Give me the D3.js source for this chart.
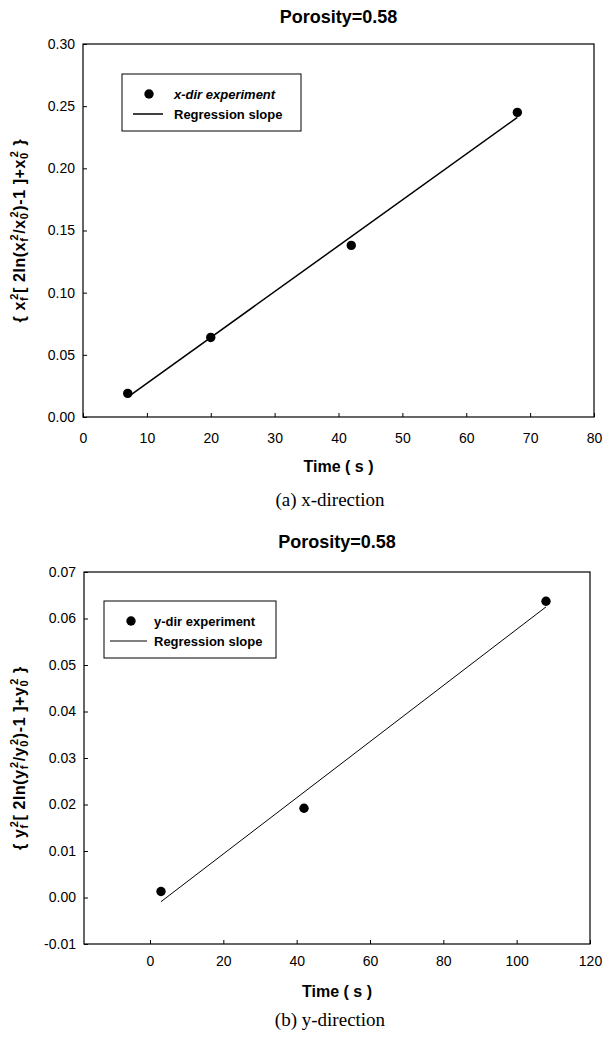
<!DOCTYPE html>
<html>
<head>
<meta charset="utf-8">
<script src="https://cdn.jsdelivr.net/npm/d3@7"></script>
<style>
  body{margin:0;background:#fff;}
  svg{display:block;font-family:Arial, "Liberation Sans", sans-serif;}
  .tick text{font-size:14px;fill:#000;}
  .tick line{stroke:#000;}
</style>
</head>
<body>
<svg id="chart" width="603" height="1041"></svg>
<script>
// (a) x-direction
const xdirTime = [7, 20, 42, 68];
const xdirValue = [0.019, 0.064, 0.138, 0.245];
const xdirFitTime = [7, 68];
const xdirFitValue = [0.016, 0.241];
const xdirXTicks = [0, 10, 20, 30, 40, 50, 60, 70, 80];
const xdirYTicks = [0, 0.05, 0.10, 0.15, 0.20, 0.25, 0.30];

// (b) y-direction
const ydirTime = [3, 42, 108];
const ydirValue = [0.0013, 0.0192, 0.0637];
const ydirFitTime = [3, 108];
const ydirFitValue = [-0.0009, 0.0625];
const ydirXTicks = [0, 20, 40, 60, 80, 100, 120];
const ydirYTicks = [-0.01, 0, 0.01, 0.02, 0.03, 0.04, 0.05, 0.06, 0.07];

const svg = d3.select("#chart");
svg.append("rect").attr("width", 603).attr("height", 1041).attr("fill", "#fff");

//label pieces: [text, "n" | "sub" | "sup"], sup is stacked over the preceding sub
function ylabelParts(v){
  return [
    ["{ " + v, "n"], ["f", "sub"], ["2", "sup"],
    ["[ 2ln(" + v, "n"], ["f", "sub"], ["2", "sup"],
    ["/" + v, "n"], ["0", "sub"], ["2", "sup"],
    [")-1 ]+" + v, "n"], ["0", "sub"], ["2", "sup"],
    [" }", "n"]
  ];
}

function drawPanel(cfg){
  const g = svg.append("g");
  const x = d3.scaleLinear().domain(cfg.xDomain).range([cfg.left, cfg.right]);
  const y = d3.scaleLinear().domain(cfg.yDomain).range([cfg.bottom, cfg.top]);

  g.append("text")
      .attr("x", (cfg.left + cfg.right) / 2)
      .attr("y", cfg.titleY)
      .attr("text-anchor", "middle")
      .style("font-size", "18px")
      .style("font-weight", "bold")
      .text("Porosity=0.58");

  // axes, ticks pointing inward
  const xAxis = g.append("g")
      .attr("transform", "translate(0," + cfg.bottom + ")")
      .call(d3.axisBottom(x).tickValues(cfg.xTicks).tickFormat(d3.format("d"))
        .tickSizeInner(-4).tickSizeOuter(0).tickPadding(cfg.xPad));
  xAxis.select(".domain").remove();
  xAxis.selectAll(".tick text").style("font-size", "14px");

  const yAxis = g.append("g")
      .attr("transform", "translate(" + cfg.left + ",0)")
      .call(d3.axisLeft(y).tickValues(cfg.yTicks)
        .tickSizeInner(-4).tickSizeOuter(0).tickPadding(8));
  yAxis.select(".domain").remove();
  yAxis.selectAll(".tick text").style("font-size", "14px");
  yAxis.selectAll(".tick text").text((d) => d3.format(".2f")(d).replace("−", "-"));

  g.append("rect")
      .attr("x", cfg.left).attr("y", cfg.top)
      .attr("width", cfg.right - cfg.left)
      .attr("height", cfg.bottom - cfg.top)
      .attr("fill", "none")
      .attr("stroke", "#000")
      .attr("stroke-width", 1.2);

  // regression line
  const fit = cfg.fitTime.map((t, i) => [t, cfg.fitValue[i]]);
  g.append("path")
      .datum(fit)
      .attr("fill", "none")
      .attr("stroke", "#000")
      .attr("stroke-width", cfg.fitWidth)
      .attr("d", d3.line().x((d) => x(d[0])).y((d) => y(d[1])));

  // experiment points
  g.selectAll("circle.pt")
      .data(cfg.time.map((t, i) => [t, cfg.value[i]]))
      .enter()
      .append("circle")
      .attr("class", "pt")
      .attr("cx", (d) => x(d[0]))
      .attr("cy", (d) => y(d[1]))
      .attr("r", 4.7)
      .attr("fill", "#000");

  // legend
  const lg = cfg.legend;
  g.append("rect")
      .attr("x", lg.x).attr("y", lg.y)
      .attr("width", lg.w).attr("height", lg.h)
      .attr("fill", "#fff")
      .attr("stroke", "#000")
      .attr("stroke-width", 1);
  g.append("circle")
      .attr("cx", lg.x + lg.markX).attr("cy", lg.y + 20)
      .attr("r", 4.7).attr("fill", "#000");
  g.append("line")
      .attr("x1", lg.x + lg.lineX0).attr("x2", lg.x + lg.lineX1)
      .attr("y1", lg.y + 40).attr("y2", lg.y + 40)
      .attr("stroke", "#000").attr("stroke-width", cfg.fitWidth);
  g.append("text")
      .attr("x", lg.x + lg.textX).attr("y", lg.y + 24.5)
      .style("font-size", "13px").style("font-weight", "bold")
      .style("font-style", lg.italic ? "italic" : "normal")
      .text(lg.label);
  g.append("text")
      .attr("x", lg.x + lg.textX).attr("y", lg.y + 44.5)
      .style("font-size", "13px").style("font-weight", "bold")
      .text("Regression slope");

  // axis titles
  g.append("text")
      .attr("x", (cfg.left + cfg.right) / 2)
      .attr("y", cfg.timeY)
      .attr("text-anchor", "middle")
      .style("font-size", "16px")
      .style("font-weight", "bold")
      .text("Time ( s )");

  const yl = g.append("text")
      .attr("transform", "translate(" + cfg.ylabelX + "," + (cfg.top + cfg.bottom) / 2 + ") rotate(-90)")
      .attr("text-anchor", "middle")
      .style("font-size", "16px")
      .style("font-weight", "bold")
      .style("letter-spacing", "0.6px");
  let lastSub = "";
  ylabelParts(cfg.var).forEach((p) => {
    const ts = yl.append("tspan").text(p[0]);
    if(p[1] === "sub"){
      ts.style("font-size", "11px").attr("baseline-shift", "-3");
      lastSub = p[0];
    } else if(p[1] === "sup"){
      ts.style("font-size", "11px").attr("baseline-shift", "7")
        .attr("dx", lastSub === "f" ? -3 : -5);
    }
  });

  g.append("text")
      .attr("x", cfg.captionX)
      .attr("y", cfg.captionY)
      .attr("text-anchor", "middle")
      .style("font-family", "'Liberation Serif', 'Times New Roman', serif")
      .style("font-size", "19px")
      .text(cfg.caption);
}

drawPanel({
  left: 83, right: 594, top: 44, bottom: 417,
  xDomain: [0, 80], yDomain: [0, 0.30],
  xTicks: xdirXTicks, yTicks: xdirYTicks, xPad: 16,
  time: xdirTime, value: xdirValue,
  fitTime: xdirFitTime, fitValue: xdirFitValue, fitWidth: 1.5,
  titleY: 23, timeY: 472, ylabelX: 25, var: "x",
  captionX: 330, captionY: 506, caption: "(a) x-direction",
  legend: {x: 122, y: 74, w: 179, h: 57, markX: 27, lineX0: 11, lineX1: 41, textX: 52,
           label: "x-dir experiment", italic: true}
});

drawPanel({
  left: 84, right: 590, top: 572, bottom: 944,
  xDomain: [-18, 120], yDomain: [-0.01, 0.07],
  xTicks: ydirXTicks, yTicks: ydirYTicks, xPad: 12,
  time: ydirTime, value: ydirValue,
  fitTime: ydirFitTime, fitValue: ydirFitValue, fitWidth: 1,
  titleY: 548, timeY: 997, ylabelX: 25, var: "y",
  captionX: 330, captionY: 1026, caption: "(b) y-direction",
  legend: {x: 104, y: 601, w: 172, h: 57, markX: 27, lineX0: 6, lineX1: 43, textX: 50,
           label: "y-dir experiment", italic: false}
});
</script>
</body>
</html>
